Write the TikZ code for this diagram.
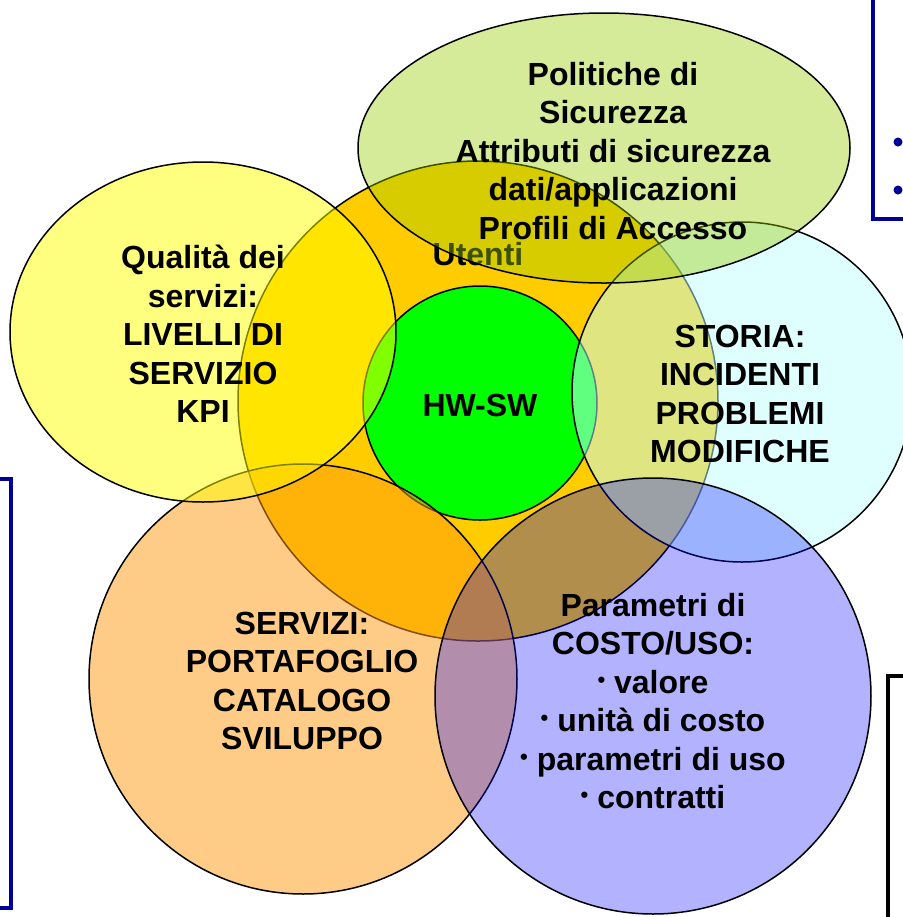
\documentclass[tikz,border=0pt]{standalone}
\usepackage{fontspec}
\setmainfont{Liberation Sans}

\definecolor{utenticol}{HTML}{FFCC00}
\definecolor{hwswcol}{HTML}{00FF00}
\definecolor{qualitacol}{HTML}{FFFF00}
\definecolor{sicurezzacol}{HTML}{99CC00}
\definecolor{storiacol}{HTML}{C0FFFF}
\definecolor{servizicol}{HTML}{FF9911}
\definecolor{costocol}{HTML}{0000FF}
\definecolor{navy}{HTML}{000099}

\newcommand{\pbul}{\raisebox{0.35ex}{\fontsize{11}{11}\selectfont •}\ }

\begin{document}
\begin{tikzpicture}[x = 0.5pt, y = -0.5pt, line width = 0.75pt,
                    set/.style = {draw = black, fill opacity = 0.5},
                    txt/.style = {font = \fontsize{16}{19.25}\selectfont\bfseries, align = center, inner sep = 0pt},
                    frame/.style = {line width = 1.6pt}]
      \useasboundingbox (0, 0) rectangle (903, 917);
      \clip (0, 0) rectangle (903, 917);

      % boxes cut by the page edge
      \draw [frame, navy] (-10, 479) rectangle (11, 908);
      \draw [frame, navy] (873, -10) rectangle (950, 219);
      \fill [navy] (898, 142) circle [radius = 4.5];
      \fill [navy] (898, 190) circle [radius = 4.5];
      \draw [frame] (888, 676) rectangle (950, 950);

      % core
      \filldraw [fill = utenticol] (478, 401) ellipse [x radius = 240, y radius = 240];
      \filldraw [fill = hwswcol] (480, 403) ellipse [x radius = 117, y radius = 117];
      \node [txt] (utenti) at (478, 254) {Utenti};

      % outer sets
      \filldraw [set, fill = servizicol] (303, 679) ellipse [x radius = 214, y radius = 215];
      \filldraw [set, fill = qualitacol] (203, 332) ellipse [x radius = 193, y radius = 170];
      \filldraw [set, fill = storiacol] (742, 392) ellipse [x radius = 170, y radius = 170];
      \filldraw [set, fill = sicurezzacol, fill opacity = 0.4] (604, 148) ellipse [x radius = 246, y radius = 135];
      \filldraw [set, fill = costocol, fill opacity = 0.3] (653, 696) ellipse [x radius = 218, y radius = 218];

      \node [txt] (hwsw) at (480, 405) {HW-SW};
      \node [txt] (politiche) at (613, 151) {Politiche di\\Sicurezza\\Attributi di sicurezza\\dati/applicazioni\\Profili di Accesso};
      \node [txt] (qualita) at (203, 334) {Qualità dei\\servizi:\\LIVELLI DI\\SERVIZIO\\KPI};
      \node [txt] (storia) at (740, 394) {STORIA:\\INCIDENTI\\PROBLEMI\\MODIFICHE};
      \node [txt] (servizi) at (302, 681) {SERVIZI:\\PORTAFOGLIO\\CATALOGO\\SVILUPPO};
      \node [txt] (costo) at (653, 701) {Parametri di\\COSTO/USO:\\\pbul valore\\\pbul unità di costo\\\pbul parametri di uso\\\pbul contratti};

\end{tikzpicture}
\end{document}
